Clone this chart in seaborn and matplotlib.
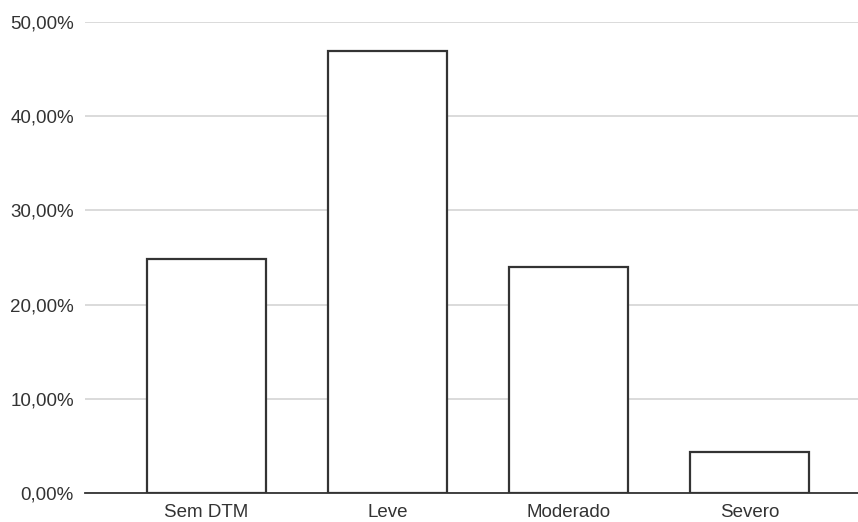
import matplotlib
matplotlib.use("Agg")
import matplotlib.pyplot as plt
import seaborn as sns
import pandas as pd
from matplotlib.ticker import FuncFormatter, MultipleLocator

# Data
categorias = ["Sem DTM", "Leve", "Moderado", "Severo"]
percentuais = [24.8, 46.9, 24.0, 4.3]

df = pd.DataFrame({"categoria": categorias, "pct": percentuais})

sns.set_style("white")
plt.rcParams["font.family"] = ["Liberation Sans", "DejaVu Sans"]

fig = plt.figure(figsize=(8.58, 5.22), dpi=100)
ax = fig.add_axes([85 / 858, 29 / 522, 773 / 858, 471 / 522])

sns.barplot(data=df, x="categoria", y="pct", ax=ax, color="white",
            edgecolor="#333333", linewidth=1.6, width=0.655, saturation=1, zorder=3)

ax.set_ylim(0, 50)
ax.set_xlim(-0.67, 3.6)
ax.yaxis.set_major_locator(MultipleLocator(10))
ax.yaxis.set_major_formatter(FuncFormatter(lambda v, p: f"{v:.2f}%".replace(".", ",")))
ax.grid(axis="y", color="#d4d4d4", linewidth=1.2, zorder=0)
ax.set_axisbelow(True)

for s in ["top", "right", "left"]:
    ax.spines[s].set_visible(False)
ax.spines["bottom"].set_color("#333333")
ax.spines["bottom"].set_linewidth(1.3)
ax.spines["bottom"].set_zorder(4)

ax.tick_params(axis="both", length=0, labelsize=13.5, labelcolor="#333333")
ax.tick_params(axis="y", pad=8)
ax.tick_params(axis="x", pad=8)
ax.set_xlabel("")
ax.set_ylabel("")

fig.savefig("out.png", dpi=100, facecolor="white")
